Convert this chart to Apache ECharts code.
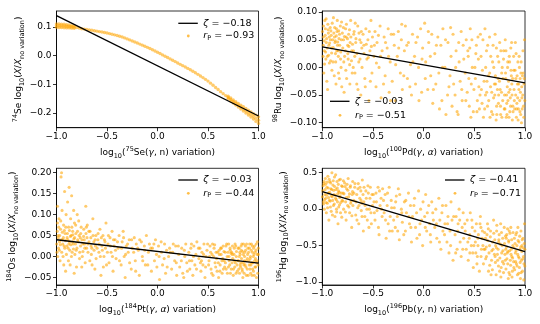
<!DOCTYPE html>
<html><head><meta charset="utf-8">
<script src="https://cdn.jsdelivr.net/npm/echarts@6/dist/echarts.min.js"></script>
<style>html,body{margin:0;padding:0;background:#fff}#c{width:540px;height:324px}</style>
</head><body><div id="c"></div>
<script>
// ---------- tick values ----------
const xTicks = [-1, -0.5, 0, 0.5, 1];
const p1YTicks = [-0.2, -0.1, 0, 0.1];
const p2YTicks = [-0.10, -0.05, 0, 0.05, 0.10];
const p3YTicks = [-0.05, 0, 0.05, 0.10, 0.15, 0.20];
const p4YTicks = [-1.0, -0.5, 0, 0.5];

// ---------- legend values ----------
const zetas = ['−0.18', '−0.03', '−0.03', '−0.41'];
const rps = ['−0.93', '−0.51', '−0.44', '−0.71'];

// ---------- fit lines (endpoints) ----------
const p1Fit = [[-1, 0.140], [1, -0.211]];
const p2Fit = [[-1, 0.037], [1, -0.028]];
const p3Fit = [[-1, 0.040], [1, -0.016]];
const p4Fit = [[-1, 0.239], [1, -0.584]];

// ---------- panel 1: 75Se(g,n) -> 74Se (dense curve) ----------
const p1Curve = [
[-1.000,0.1050],[-0.975,0.1045],[-0.950,0.1040],[-0.925,0.1034],[-0.900,0.1027],[-0.875,0.1019],[-0.850,0.1010],[-0.825,0.0999],
[-0.800,0.0985],[-0.775,0.0963],[-0.750,0.0940],[-0.725,0.0927],[-0.700,0.0914],[-0.675,0.0900],[-0.650,0.0886],[-0.625,0.0871],
[-0.600,0.0856],[-0.575,0.0840],[-0.550,0.0824],[-0.525,0.0807],[-0.500,0.0790],[-0.475,0.0770],[-0.450,0.0749],[-0.425,0.0727],
[-0.400,0.0703],[-0.375,0.0677],[-0.350,0.0649],[-0.325,0.0620],[-0.300,0.0585],[-0.275,0.0550],[-0.250,0.0510],[-0.225,0.0475],
[-0.200,0.0440],[-0.175,0.0403],[-0.150,0.0366],[-0.125,0.0328],[-0.100,0.0289],[-0.075,0.0249],[-0.050,0.0207],[-0.025,0.0163],
[0.000,0.0118],[0.025,0.0072],[0.050,0.0026],[0.075,-0.0021],[0.100,-0.0068],[0.125,-0.0115],[0.150,-0.0162],[0.175,-0.0209],
[0.200,-0.0257],[0.225,-0.0305],[0.250,-0.0350],[0.275,-0.0398],[0.300,-0.0447],[0.325,-0.0496],[0.350,-0.0547],[0.375,-0.0600],
[0.400,-0.0655],[0.425,-0.0711],[0.450,-0.0769],[0.475,-0.0829],[0.500,-0.0890],[0.525,-0.0963],[0.550,-0.1037],[0.575,-0.1112],
[0.600,-0.1186],[0.625,-0.1260],[0.650,-0.1329],[0.675,-0.1397],[0.700,-0.1465],[0.725,-0.1533],[0.750,-0.1600],[0.775,-0.1666],
[0.800,-0.1732],[0.825,-0.1798],[0.850,-0.1864],[0.875,-0.1930],[0.900,-0.1996],[0.925,-0.2062],[0.950,-0.2128],[0.975,-0.2194],
[1.000,-0.2260]
];
const p1Edges = [
[-1,0.111],[-1,0.099],[-0.975,0.1105],[-0.975,0.0985],[-0.95,0.110],[-0.95,0.098],[-0.925,0.1095],[-0.925,0.0975],
[-0.9,0.108],[-0.9,0.097],[-0.875,0.107],[-0.875,0.097],[-0.85,0.105],[-0.85,0.096],[-0.825,0.104],[-0.825,0.0955],
[0.7,-0.142],[0.7,-0.151],[0.725,-0.148],[0.725,-0.159],[0.75,-0.155],[0.75,-0.166],[0.775,-0.161],[0.775,-0.173],
[0.8,-0.167],[0.8,-0.180],[0.825,-0.173],[0.825,-0.187],[0.85,-0.179],[0.85,-0.194],[0.875,-0.185],[0.875,-0.201],
[0.9,-0.191],[0.9,-0.208],[0.925,-0.197],[0.925,-0.215],[0.95,-0.203],[0.95,-0.222],[0.975,-0.208],[0.975,-0.230],
[1,-0.214],[1,-0.237]
];

// ---------- panel 2: 100Pd(g,a) -> 98Ru ----------
const p2Pts = [
[-0.99,0.055],[-0.98,0.03],[-0.97,0.07],[-0.985,-0.01],[-0.96,0.045],[-0.95,0.02],[-0.94,0.062],[-0.93,0.008],[-0.975,0.085],[-0.92,0.05],[-0.91,0.035],[-0.955,-0.025],[-0.945,0.078],[-0.935,0.04],[-0.965,0.015],[-0.915,0.066],[-0.99,0.04],[-0.905,-0.005],
[-0.89,0.09],[-0.88,0.055],[-0.87,0.025],[-0.86,0.07],[-0.85,0.04],[-0.84,-0.01],[-0.83,0.06],[-0.82,0.015],[-0.81,0.082],[-0.875,0.045],[-0.865,-0.03],[-0.845,0.03],[-0.835,0.052],[-0.815,0.0],[-0.895,0.01],[-0.855,0.065],
[-0.79,0.05],[-0.78,0.02],[-0.77,0.07],[-0.76,-0.02],[-0.75,0.04],[-0.74,0.06],[-0.73,0.005],[-0.72,0.085],[-0.71,0.03],[-0.785,-0.045],[-0.765,0.055],[-0.745,0.015],[-0.725,0.045],[-0.705,-0.01],
[-0.69,0.06],[-0.68,0.02],[-0.67,0.045],[-0.66,-0.03],[-0.65,0.075],[-0.64,0.01],[-0.63,0.05],[-0.62,-0.05],[-0.61,0.035],[-0.695,0.0],[-0.675,0.08],[-0.615,0.065],
[-0.59,0.04],[-0.58,-0.02],[-0.57,0.07],[-0.56,0.015],[-0.55,0.05],[-0.54,-0.06],[-0.53,0.03],[-0.52,0.085],[-0.51,-0.01],[-0.505,0.055],
[-0.49,0.02],[-0.48,0.065],[-0.47,-0.035],[-0.46,0.045],[-0.44,0.0],[-0.43,0.075],[-0.42,-0.055],[-0.41,0.03],
[-0.39,0.055],[-0.38,-0.015],[-0.36,0.035],[-0.35,0.07],[-0.34,-0.045],[-0.33,0.01],[-0.32,0.06],[-0.31,-0.025],
[-0.29,0.04],[-0.28,-0.06],[-0.26,0.02],[-0.25,0.065],[-0.23,-0.01],[-0.22,0.05],[-0.21,-0.04],
[-0.19,0.03],[-0.18,0.075],[-0.16,-0.02],[-0.15,0.045],[-0.13,0.005],[-0.12,-0.05],[-0.11,0.06],
[-0.09,0.02],[-0.08,-0.03],[-0.06,0.055],[-0.05,0.0],[-0.03,0.07],[-0.02,-0.045],[-0.01,0.035],
[0.01,0.08],[0.02,0.01],[0.04,-0.04],[0.05,0.045],[0.07,-0.015],[0.08,0.06],[0.09,-0.065],
[0.11,0.025],[0.12,-0.03],[0.14,0.055],[0.15,-0.01],[0.17,0.04],[0.18,-0.06],[0.19,0.07],
[0.21,0.0],[0.22,-0.085],[0.24,0.045],[0.25,-0.035],[0.27,0.02],[0.28,-0.07],[0.29,0.06],[0.26,-0.015],
[0.31,-0.05],[0.32,0.03],[0.33,-0.08],[0.35,0.01],[0.36,-0.025],[0.37,0.065],[0.38,-0.06],[0.39,0.04],[0.34,-0.085],
[0.41,-0.01],[0.42,0.05],[0.43,-0.045],[0.44,0.02],[0.45,-0.07],[0.46,0.07],[0.47,-0.03],[0.48,0.0],[0.49,-0.08],[0.455,0.035],
[0.51,-0.02],[0.52,0.04],[0.53,-0.06],[0.54,0.015],[0.55,-0.075],[0.56,0.06],[0.57,-0.04],[0.58,-0.005],[0.59,-0.09],[0.515,0.025],[0.545,-0.035],[0.585,0.05],
[0.61,-0.05],[0.62,0.03],[0.63,-0.07],[0.64,-0.015],[0.65,0.055],[0.66,-0.035],[0.67,-0.08],[0.68,0.01],[0.69,-0.055],[0.605,0.07],[0.625,-0.025],[0.655,-0.09],[0.685,0.04],
[0.71,-0.03],[0.72,-0.07],[0.73,0.02],[0.74,-0.05],[0.75,0.045],[0.76,-0.085],[0.77,-0.01],[0.78,-0.06],[0.79,0.03],[0.705,0.06],[0.715,-0.095],[0.735,-0.02],[0.755,-0.04],[0.775,0.0],[0.795,-0.075],
[0.81,-0.02],[0.82,-0.065],[0.83,0.01],[0.84,-0.045],[0.85,-0.08],[0.86,0.035],[0.87,-0.03],[0.88,-0.07],[0.89,-0.005],[0.805,0.05],[0.815,-0.09],[0.825,-0.035],[0.845,0.02],[0.855,-0.055],[0.865,-0.015],[0.875,-0.095],[0.895,-0.06],
[0.91,-0.02],[0.92,-0.065],[0.93,0.01],[0.94,-0.04],[0.95,-0.08],[0.96,-0.01],[0.97,-0.055],[0.98,0.03],[0.99,-0.03],[0.905,0.045],[0.915,-0.09],[0.925,-0.03],[0.935,-0.075],[0.945,0.0],[0.955,-0.045],[0.965,-0.1],[0.975,-0.015],[0.985,-0.07],[0.995,0.05]
];
const p2More = [
[-0.998,0.065],[-0.992,0.02],[-0.988,0.075],[-0.982,0.048],[-0.978,0.006],[-0.972,0.058],[-0.968,0.028],[-0.962,0.088],[-0.958,0.052],[-0.952,0.035],[-0.948,-0.04],[-0.942,0.068],[-0.938,0.022],[-0.932,0.055],[-0.928,0.044],[-0.922,0.072],[-0.918,0.012],[-0.912,0.058],[-0.908,0.026],[-0.902,0.08],
[-0.898,0.05],[-0.892,0.036],[-0.886,0.062],[-0.882,-0.015],[-0.878,0.072],[-0.872,0.048],[-0.868,0.01],[-0.862,0.057],[-0.858,0.03],[-0.852,0.085],[-0.848,0.046],[-0.842,0.02],[-0.838,0.066],[-0.832,-0.02],[-0.828,0.04],[-0.822,0.075],[-0.818,0.028],[-0.812,0.05],[-0.808,-0.035],[-0.802,0.062],
[-0.798,0.035],[-0.792,0.072],[-0.788,0.01],[-0.782,0.056],[-0.772,0.03],[-0.768,-0.005],[-0.762,0.078],[-0.752,0.052],[-0.748,0.025],[-0.738,0.038],[-0.732,0.068],[-0.728,-0.03],[-0.718,0.055],[-0.712,0.012],[-0.702,0.042],
[-0.692,0.03],[-0.686,0.065],[-0.678,-0.01],[-0.668,0.052],[-0.658,0.025],[-0.648,-0.04],[-0.638,0.062],[-0.628,0.015],[-0.618,0.045],[-0.608,0.0],
[-0.598,0.06],[-0.588,0.025],[-0.576,-0.035],[-0.566,0.042],[-0.546,0.018],[-0.536,0.065],[-0.526,-0.025],[-0.516,0.038],
[-0.486,0.04],[-0.466,0.008],[-0.446,0.058],[-0.426,0.02],[-0.396,-0.03],[-0.376,0.045],[-0.346,0.02],[-0.326,-0.06],[-0.296,0.06],[-0.276,0.005],[-0.246,0.035],[-0.216,0.078],[-0.196,-0.015],[-0.166,0.04],[-0.136,-0.035],[-0.106,0.01],[-0.076,0.045],[-0.046,-0.06],[-0.016,0.015],
[0.016,-0.02],[0.046,0.065],[0.066,0.02],[0.096,-0.04],[0.126,0.04],[0.156,-0.075],[0.186,0.0],[0.216,0.05],[0.236,-0.05],[0.266,0.072],[0.296,-0.03],[0.316,0.0],[0.346,0.045],[0.376,-0.04],[0.396,0.015],
[0.416,-0.06],[0.436,0.03],[0.446,-0.02],[0.466,-0.09],[0.476,0.05],[0.496,-0.04],
[0.506,0.0],[0.526,-0.08],[0.536,0.055],[0.556,-0.05],[0.566,0.02],[0.576,-0.065],[0.596,-0.025],
[0.602,-0.075],[0.612,0.0],[0.622,-0.045],[0.632,0.04],[0.642,-0.06],[0.652,-0.01],[0.662,0.02],[0.672,-0.045],[0.682,-0.085],[0.692,0.0],[0.698,-0.03],
[0.702,-0.05],[0.708,-0.015],[0.718,0.035],[0.722,-0.085],[0.728,-0.04],[0.738,-0.065],[0.742,0.01],[0.748,-0.025],[0.758,-0.07],[0.762,0.03],[0.768,-0.045],[0.772,-0.09],[0.782,-0.02],[0.788,0.015],[0.798,-0.05],
[0.802,-0.075],[0.808,-0.01],[0.812,0.03],[0.818,-0.05],[0.822,-0.085],[0.828,0.0],[0.832,-0.06],[0.838,-0.025],[0.842,-0.09],[0.848,0.01],[0.852,-0.04],[0.858,-0.07],[0.862,-0.005],[0.868,0.045],[0.872,-0.05],[0.878,-0.02],[0.882,-0.08],[0.888,0.02],[0.892,-0.04],[0.898,-0.075],
[0.902,-0.005],[0.908,-0.05],[0.912,0.025],[0.918,-0.075],[0.922,-0.015],[0.928,-0.055],[0.932,-0.095],[0.938,-0.03],[0.942,0.02],[0.948,-0.06],[0.952,-0.02],[0.958,-0.085],[0.962,0.01],[0.968,-0.035],[0.972,-0.075],[0.978,-0.05],[0.982,-0.01],[0.988,-0.09],[0.992,-0.02],[0.998,-0.06]
];

// ---------- panel 3: 184Pt(g,a) -> 184Os ----------
const p3Pts = [
[-0.99,0.12],[-0.985,0.05],[-0.98,0.02],[-0.975,0.09],[-0.97,0.035],[-0.965,-0.01],[-0.96,0.065],[-0.955,0.19],[-0.95,0.2],[-0.945,0.11],[-0.94,0.04],[-0.935,0.0],[-0.93,0.075],[-0.925,0.025],[-0.92,0.155],[-0.915,0.055],[-0.91,-0.035],[-0.905,0.1],[-0.995,0.01],[-0.99,0.08],
[-0.895,0.045],[-0.89,0.13],[-0.885,0.02],[-0.88,0.07],[-0.875,0.165],[-0.87,0.035],[-0.865,-0.02],[-0.86,0.09],[-0.855,0.05],[-0.85,0.145],[-0.845,0.01],[-0.84,0.06],[-0.835,0.03],[-0.83,0.11],[-0.825,-0.04],[-0.82,0.045],[-0.81,0.075],[-0.805,0.015],
[-0.79,0.04],[-0.78,0.085],[-0.77,0.01],[-0.76,0.055],[-0.75,-0.025],[-0.74,0.03],[-0.73,0.065],[-0.72,0.02],[-0.71,0.12],[-0.795,0.1],[-0.765,0.045],[-0.745,0.0],[-0.725,0.04],[-0.705,0.07],
[-0.69,0.03],[-0.68,0.06],[-0.67,-0.01],[-0.66,0.045],[-0.65,0.02],[-0.64,0.09],[-0.63,0.035],[-0.62,-0.03],[-0.61,0.05],[-0.695,0.075],[-0.655,0.005],[-0.615,0.025],
[-0.59,0.04],[-0.58,0.01],[-0.57,0.065],[-0.56,-0.045],[-0.55,0.025],[-0.54,0.05],[-0.53,0.0],[-0.52,0.035],[-0.51,0.08],[-0.505,-0.02],
[-0.49,0.03],[-0.48,-0.015],[-0.47,0.045],[-0.46,0.01],[-0.45,0.06],[-0.44,-0.035],[-0.43,0.025],[-0.42,0.04],[-0.41,-0.005],
[-0.39,0.02],[-0.38,0.05],[-0.36,-0.02],[-0.35,0.035],[-0.33,0.0],[-0.32,-0.05],[-0.31,0.025],[-0.34,0.06],
[-0.29,0.01],[-0.28,0.04],[-0.26,-0.03],[-0.25,0.02],[-0.23,0.045],[-0.22,-0.01],[-0.21,0.03],
[-0.19,0.015],[-0.18,-0.045],[-0.16,0.035],[-0.15,0.0],[-0.13,0.025],[-0.12,-0.02],[-0.11,0.05],
[-0.09,0.01],[-0.08,0.03],[-0.06,-0.035],[-0.05,0.02],[-0.03,-0.01],[-0.02,0.04],[-0.01,0.005],
[0.01,0.025],[0.02,-0.055],[0.04,0.01],[0.05,-0.02],[0.07,0.03],[0.08,-0.04],[0.09,0.015],
[0.11,0.0],[0.12,0.02],[0.14,-0.03],[0.15,0.01],[0.17,-0.01],[0.18,0.025],[0.19,-0.045],
[0.21,0.005],[0.22,-0.025],[0.24,0.02],[0.25,-0.04],[0.27,0.0],[0.28,0.03],[0.29,-0.015],[0.26,-0.05],
[0.31,0.01],[0.32,-0.03],[0.33,0.02],[0.34,-0.01],[0.35,-0.045],[0.36,0.025],[0.37,-0.02],[0.38,0.005],[0.39,0.035],
[0.41,-0.005],[0.42,0.02],[0.43,-0.035],[0.44,0.01],[0.45,-0.02],[0.46,0.03],[0.47,-0.05],[0.48,0.0],[0.49,0.015],[0.425,-0.015],
[0.51,-0.01],[0.52,0.025],[0.53,-0.03],[0.54,0.005],[0.55,-0.045],[0.56,0.02],[0.57,-0.015],[0.58,0.01],[0.59,-0.035],[0.515,0.0],[0.545,0.03],[0.585,-0.005],
[0.61,0.015],[0.62,-0.02],[0.63,0.005],[0.64,-0.04],[0.65,0.025],[0.66,-0.01],[0.67,0.01],[0.68,-0.03],[0.69,0.0],[0.605,-0.05],[0.625,0.02],[0.645,-0.005],[0.665,-0.025],[0.685,0.03],
[0.71,-0.01],[0.72,0.015],[0.73,-0.03],[0.74,0.005],[0.75,-0.045],[0.76,0.02],[0.77,-0.015],[0.78,0.0],[0.79,-0.035],[0.705,0.03],[0.715,-0.02],[0.735,0.01],[0.745,-0.005],[0.765,-0.025],[0.775,0.025],[0.795,-0.01],
[0.81,0.0],[0.82,-0.02],[0.83,0.015],[0.84,-0.035],[0.85,0.005],[0.86,-0.01],[0.87,0.025],[0.88,-0.045],[0.89,-0.005],[0.805,-0.03],[0.815,0.01],[0.825,-0.015],[0.835,0.03],[0.845,-0.05],[0.855,-0.02],[0.865,0.01],[0.875,-0.025],[0.895,0.02],
[0.905,-0.01],[0.91,0.02],[0.915,-0.03],[0.92,0.0],[0.925,-0.02],[0.93,0.03],[0.935,-0.045],[0.94,0.01],[0.945,-0.015],[0.95,-0.035],[0.955,0.005],[0.96,0.025],[0.965,-0.025],[0.97,-0.005],[0.975,0.015],[0.98,-0.05],[0.985,-0.01],[0.99,0.035],[0.995,-0.02],[0.998,0.005]
];
const p3More = [
[-0.998,0.03],[-0.992,0.06],[-0.988,0.0],[-0.982,0.045],[-0.978,0.07],[-0.972,0.015],[-0.968,0.05],[-0.962,0.028],[-0.958,0.085],[-0.952,0.04],[-0.948,0.01],[-0.942,0.058],[-0.938,0.03],[-0.932,0.045],[-0.928,-0.02],[-0.922,0.062],[-0.918,0.02],[-0.912,0.038],[-0.908,0.07],[-0.902,0.005],
[-0.898,0.025],[-0.892,0.055],[-0.888,0.04],[-0.882,-0.01],[-0.878,0.03],[-0.872,0.062],[-0.868,0.015],[-0.862,0.048],[-0.858,0.028],[-0.852,0.0],[-0.848,0.07],[-0.842,0.035],[-0.838,0.052],[-0.832,0.018],[-0.828,0.042],[-0.822,0.08],[-0.818,0.005],[-0.812,0.03],[-0.808,0.055],[-0.802,-0.025],
[-0.798,0.02],[-0.792,0.06],[-0.786,0.035],[-0.776,0.05],[-0.772,-0.005],[-0.762,0.025],[-0.756,0.07],[-0.748,0.04],[-0.738,0.012],[-0.732,0.048],[-0.722,0.03],[-0.716,-0.015],[-0.708,0.055],[-0.702,0.02],
[-0.698,0.045],[-0.688,0.01],[-0.678,0.035],[-0.668,0.06],[-0.658,0.025],[-0.648,-0.02],[-0.638,0.05],[-0.628,0.015],[-0.618,0.04],[-0.608,-0.005],
[-0.598,0.02],[-0.588,0.055],[-0.578,0.03],[-0.566,0.0],[-0.556,0.045],[-0.546,0.015],[-0.536,-0.025],[-0.526,0.04],[-0.516,0.02],
[-0.496,0.01],[-0.486,0.05],[-0.466,0.025],[-0.446,0.0],[-0.436,0.04],[-0.416,0.015],[-0.396,0.035],[-0.376,-0.01],[-0.356,0.02],[-0.336,0.045],[-0.316,0.005],[-0.296,0.03],[-0.276,-0.015],[-0.256,0.04],[-0.236,0.01],[-0.216,-0.035],[-0.196,0.02],[-0.176,0.04],[-0.146,-0.01],[-0.126,0.015],[-0.096,-0.02],[-0.066,0.02],[-0.036,0.03],[-0.006,-0.025],
[0.016,0.0],[0.036,0.035],[0.066,-0.005],[0.096,-0.025],[0.126,0.01],[0.156,0.03],[0.186,-0.015],[0.206,0.025],[0.236,-0.01],[0.266,0.015],[0.296,-0.035],[0.316,-0.01],[0.336,0.03],[0.356,0.0],[0.386,-0.03],
[0.406,0.02],[0.436,-0.01],[0.456,0.005],[0.476,-0.025],[0.496,0.03],
[0.506,-0.02],[0.526,0.01],[0.536,-0.04],[0.556,0.0],[0.566,0.028],[0.576,-0.025],[0.596,0.01],
[0.602,-0.015],[0.612,0.005],[0.618,-0.035],[0.632,0.02],[0.638,-0.01],[0.652,-0.03],[0.658,0.012],[0.672,-0.015],[0.678,0.025],[0.692,-0.04],[0.698,0.01],
[0.702,-0.025],[0.708,0.0],[0.718,0.02],[0.722,-0.04],[0.728,0.008],[0.738,-0.015],[0.742,0.025],[0.752,-0.03],[0.758,0.005],[0.762,-0.01],[0.768,0.03],[0.778,-0.04],[0.782,0.012],[0.788,-0.02],[0.798,0.02],
[0.802,-0.01],[0.808,0.02],[0.812,-0.04],[0.818,0.005],[0.822,-0.025],[0.828,0.025],[0.832,-0.005],[0.838,-0.03],[0.842,0.012],[0.848,-0.015],[0.852,0.03],[0.858,-0.04],[0.862,0.0],[0.868,-0.02],[0.872,0.015],[0.878,-0.01],[0.882,0.03],[0.888,-0.03],[0.892,0.005],[0.898,-0.045],
[0.902,0.01],[0.908,-0.02],[0.912,0.03],[0.918,-0.005],[0.922,-0.04],[0.928,0.015],[0.932,-0.015],[0.938,0.025],[0.942,-0.03],[0.948,0.0],[0.952,0.02],[0.958,-0.045],[0.962,-0.01],[0.968,0.01],[0.972,-0.025],[0.978,0.03],[0.982,-0.015],[0.988,0.005],[0.992,-0.04],[0.998,0.02]
];

// ---------- panel 4: 196Pb(g,n) -> 196Hg ----------
const p4Pts = [
[-0.995,0.25],[-0.99,0.1],[-0.985,0.35],[-0.98,0.0],[-0.975,0.2],[-0.97,0.42],[-0.965,0.15],[-0.96,-0.05],[-0.955,0.3],[-0.95,0.08],[-0.945,0.45],[-0.94,0.22],[-0.935,-0.15],[-0.93,0.12],[-0.925,0.38],[-0.92,0.03],[-0.915,0.28],[-0.91,0.18],[-0.905,0.5],[-0.9,-0.08],
[-0.895,0.33],[-0.89,0.05],[-0.885,0.2],[-0.88,0.44],[-0.875,-0.1],[-0.87,0.15],[-0.865,0.27],[-0.86,0.0],[-0.855,0.38],[-0.85,0.1],[-0.845,-0.2],[-0.84,0.25],[-0.835,0.4],[-0.83,0.06],[-0.825,0.18],[-0.82,-0.05],[-0.81,0.32],[-0.805,0.12],
[-0.795,0.22],[-0.79,0.0],[-0.78,0.36],[-0.77,0.1],[-0.765,-0.15],[-0.76,0.28],[-0.75,0.05],[-0.745,0.42],[-0.74,0.17],[-0.73,-0.05],[-0.725,0.3],[-0.72,0.08],[-0.71,-0.25],[-0.705,0.2],[-0.7,0.38],
[-0.69,0.12],[-0.68,0.3],[-0.67,-0.08],[-0.66,0.2],[-0.65,0.02],[-0.645,0.35],[-0.64,-0.2],[-0.63,0.15],[-0.62,0.25],[-0.615,-0.02],[-0.61,0.08],[-0.605,0.4],
[-0.59,0.1],[-0.58,-0.1],[-0.57,0.25],[-0.56,0.0],[-0.55,0.32],[-0.54,-0.25],[-0.53,0.15],[-0.52,-0.05],[-0.51,0.2],[-0.505,0.05],[-0.595,-0.3],
[-0.49,0.1],[-0.48,-0.15],[-0.47,0.22],[-0.46,-0.02],[-0.45,0.3],[-0.44,-0.35],[-0.43,0.05],[-0.42,0.15],[-0.41,-0.1],[-0.405,0.28],
[-0.39,-0.05],[-0.38,0.2],[-0.37,-0.4],[-0.36,0.05],[-0.35,-0.2],[-0.34,0.3],[-0.33,-0.1],[-0.32,0.12],[-0.31,-0.3],
[-0.29,0.02],[-0.28,-0.25],[-0.27,0.18],[-0.26,-0.1],[-0.25,0.28],[-0.24,-0.42],[-0.22,0.0],[-0.21,-0.18],
[-0.19,0.1],[-0.18,-0.3],[-0.17,-0.05],[-0.15,0.22],[-0.14,-0.2],[-0.13,0.05],[-0.12,-0.45],[-0.11,-0.1],
[-0.09,0.15],[-0.08,-0.25],[-0.07,-0.05],[-0.05,0.25],[-0.04,-0.35],[-0.03,0.0],[-0.02,-0.15],[-0.01,-0.5],
[0.01,-0.1],[0.02,0.2],[0.03,-0.3],[0.05,0.05],[0.06,-0.2],[0.07,-0.45],[0.08,0.1],[0.09,-0.05],
[0.11,-0.25],[0.12,0.0],[0.13,-0.4],[0.15,0.15],[0.16,-0.15],[0.17,-0.55],[0.18,-0.05],[0.19,-0.3],
[0.21,-0.2],[0.22,0.05],[0.23,-0.45],[0.24,-0.1],[0.25,-0.6],[0.26,-0.3],[0.27,0.1],[0.28,-0.15],[0.29,-0.7],
[0.31,-0.35],[0.32,-0.1],[0.33,-0.55],[0.34,-0.2],[0.35,0.0],[0.36,-0.45],[0.37,-0.65],[0.38,-0.25],[0.39,-0.05],[0.395,-0.4],
[0.41,-0.3],[0.42,-0.55],[0.43,-0.15],[0.44,-0.7],[0.45,-0.4],[0.46,-0.05],[0.47,-0.5],[0.48,-0.25],[0.49,-0.8],[0.455,-0.35],[0.485,-0.6],
[0.51,-0.45],[0.52,-0.2],[0.53,-0.65],[0.54,-0.35],[0.55,-0.85],[0.56,-0.1],[0.57,-0.55],[0.58,-0.3],[0.59,-0.75],[0.515,-0.6],[0.535,-0.4],[0.565,-0.25],[0.585,-0.5],
[0.61,-0.4],[0.62,-0.65],[0.63,-0.2],[0.64,-0.85],[0.65,-0.5],[0.66,-0.3],[0.67,-0.7],[0.68,-0.45],[0.69,-0.15],[0.605,-0.55],[0.625,-0.35],[0.645,-0.6],[0.665,-0.9],[0.685,-0.55],
[0.71,-0.5],[0.72,-0.3],[0.73,-0.7],[0.74,-0.45],[0.75,-0.85],[0.76,-0.2],[0.77,-0.6],[0.78,-0.4],[0.79,-0.75],[0.705,-0.65],[0.715,-0.9],[0.735,-0.55],[0.745,-0.35],[0.765,-0.8],[0.775,-0.5],[0.795,-0.25],
[0.81,-0.55],[0.82,-0.35],[0.83,-0.75],[0.84,-0.45],[0.85,-0.9],[0.86,-0.25],[0.87,-0.65],[0.88,-0.5],[0.89,-0.8],[0.805,-0.7],[0.815,-0.4],[0.825,-0.6],[0.835,-0.95],[0.845,-0.3],[0.855,-0.7],[0.865,-0.55],[0.875,-0.85],[0.895,-0.4],
[0.905,-0.6],[0.91,-0.35],[0.915,-0.75],[0.92,-0.5],[0.925,-0.9],[0.93,-0.25],[0.935,-0.65],[0.94,-0.45],[0.945,-0.8],[0.95,-0.55],[0.955,-0.95],[0.96,-0.3],[0.965,-0.7],[0.97,-0.5],[0.975,-0.85],[0.98,-0.4],[0.985,-0.65],[0.99,-0.75],[0.995,-0.2],[0.998,-0.55]
];
const p4More = [
[-0.998,0.17],[-0.992,0.32],[-0.988,0.07],[-0.982,0.38],[-0.978,0.13],[-0.972,0.27],[-0.968,0.34],[-0.962,0.09],[-0.958,0.19],[-0.952,0.37],[-0.948,0.02],[-0.942,0.29],[-0.938,0.16],[-0.932,0.41],[-0.928,0.23],[-0.922,0.11],[-0.918,0.36],[-0.912,-0.03],[-0.908,0.27],[-0.902,0.17],
[-0.898,0.12],[-0.892,0.39],[-0.888,0.26],[-0.882,0.07],[-0.878,0.31],[-0.872,0.19],[-0.868,0.47],[-0.862,0.13],[-0.858,-0.04],[-0.852,0.29],[-0.848,0.21],[-0.842,0.34],[-0.838,0.03],[-0.832,0.23],[-0.828,0.16],[-0.822,0.41],[-0.818,0.09],[-0.812,0.22],[-0.808,-0.11],[-0.802,0.31],
[-0.798,0.11],[-0.792,0.39],[-0.786,0.21],[-0.776,0.31],[-0.772,-0.04],[-0.762,0.16],[-0.756,0.34],[-0.748,0.26],[-0.738,0.03],[-0.732,0.21],[-0.722,0.32],[-0.716,0.11],[-0.708,-0.09],[-0.702,0.24],
[-0.698,0.05],[-0.688,0.22],[-0.678,0.35],[-0.668,0.1],[-0.658,-0.15],[-0.648,0.28],[-0.638,0.05],[-0.628,0.3],[-0.618,0.12],[-0.608,-0.1],
[-0.598,0.2],[-0.588,0.3],[-0.578,0.05],[-0.566,0.15],[-0.556,-0.15],[-0.546,0.22],[-0.536,0.0],[-0.526,0.3],[-0.516,-0.2],
[-0.496,0.2],[-0.486,-0.05],[-0.466,0.1],[-0.446,-0.25],[-0.436,0.25],[-0.416,0.0],[-0.396,0.12],[-0.376,-0.15],[-0.356,0.22],[-0.336,-0.3],[-0.316,0.02],[-0.296,-0.15],[-0.276,0.1],[-0.256,-0.3],[-0.236,0.2],[-0.216,-0.05],[-0.196,-0.35],[-0.176,0.12],[-0.146,-0.1],[-0.126,-0.25],[-0.096,0.05],[-0.066,-0.4],[-0.036,-0.2],[-0.006,0.1],
[0.016,-0.25],[0.036,-0.05],[0.066,-0.35],[0.096,-0.15],[0.126,-0.2],[0.156,-0.45],[0.186,0.05],[0.206,-0.35],[0.236,-0.2],[0.266,-0.5],[0.296,-0.1],[0.316,-0.6],[0.336,-0.3],[0.356,-0.15],[0.386,-0.55],
[0.406,-0.2],[0.436,-0.45],[0.456,-0.6],[0.476,-0.15],[0.496,-0.5],
[0.506,-0.3],[0.526,-0.75],[0.536,-0.5],[0.556,-0.2],[0.566,-0.65],[0.576,-0.4],[0.596,-0.55],
[0.602,-0.32],[0.612,-0.68],[0.618,-0.52],[0.632,-0.43],[0.638,-0.27],[0.652,-0.77],[0.658,-0.38],[0.672,-0.57],[0.678,-0.83],[0.692,-0.33],[0.698,-0.62],
[0.702,-0.42],[0.708,-0.73],[0.718,-0.53],[0.722,-0.22],[0.728,-0.62],[0.738,-0.78],[0.742,-0.42],[0.752,-0.67],[0.758,-0.48],[0.762,-0.93],[0.768,-0.32],[0.778,-0.72],[0.782,-0.57],[0.788,-0.87],[0.798,-0.47],
[0.802,-0.62],[0.808,-0.37],[0.812,-0.82],[0.818,-0.52],[0.822,-0.68],[0.828,-0.27],[0.832,-0.58],[0.838,-0.43],[0.842,-0.87],[0.848,-0.57],[0.852,-0.33],[0.858,-0.77],[0.862,-0.62],[0.868,-0.42],[0.872,-0.93],[0.878,-0.67],[0.882,-0.32],[0.888,-0.72],[0.892,-0.53],[0.898,-0.83],
[0.902,-0.47],[0.908,-0.72],[0.912,-0.57],[0.918,-0.32],[0.922,-0.78],[0.928,-0.62],[0.932,-0.43],[0.938,-0.88],[0.942,-0.67],[0.948,-0.37],[0.952,-0.73],[0.958,-0.52],[0.962,-0.87],[0.968,-0.58],[0.972,-0.42],[0.978,-0.68],[0.982,-0.53],[0.988,-0.97],[0.992,-0.47],[0.998,-0.78]
];

// ---------- build chart ----------
const FF = 'DejaVu Sans';
const ORANGE = 'rgba(255,165,0,0.72)';
const rich = {
  n: {fontSize: 9, fontFamily: FF, color: '#000', lineHeight: 14},
  i: {fontSize: 9, fontFamily: FF, color: '#000', fontStyle: 'italic', lineHeight: 14},
  s: {fontSize: 6.5, fontFamily: FF, color: '#000', lineHeight: 7, verticalAlign: 'top'},
  b: {fontSize: 6.5, fontFamily: FF, color: '#000', lineHeight: 7, verticalAlign: 'bottom'}
};
function xName(sup, el, reac) { return '{n|log}{b|10}{n|(}{s|' + sup + '}{n|' + el + '(}{i|γ}{n|, }' + reac + '{n|) variation)}'; }
function yName(sup, el) { return '{s|' + sup + '}{n|' + el + ' log}{b|10}{n|(}{i|X}{n|/}{i|X}{b|no variation}{n|)}'; }
const fmt = d => v => (Math.abs(v) < 1e-9 ? (0).toFixed(d) : v.toFixed(d)).replace('-', '−');

const panels = [
  {grid: {left: 56.5, top: 11, width: 202, height: 116.7}, ymin: -0.252, ymax: 0.156, yt: p1YTicks, yd: 1,
   xn: xName('75', 'Se', '{n|n}'), yn: yName('74', 'Se'), yGap: 27, pts: p1Curve.concat(p1Edges), fit: p1Fit, size: 3.4},
  {grid: {left: 322.3, top: 11, width: 202.7, height: 116.7}, ymin: -0.109, ymax: 0.102, yt: p2YTicks, yd: 2,
   xn: xName('100', 'Pd', '{i|α}'), yn: yName('98', 'Ru'), yGap: 35, pts: p2Pts.concat(p2More), fit: p2Fit, size: 3.1},
  {grid: {left: 56.5, top: 168.3, width: 202, height: 116.7}, ymin: -0.068, ymax: 0.2105, yt: p3YTicks, yd: 2,
   xn: xName('184', 'Pt', '{i|α}'), yn: yName('184', 'Os'), yGap: 30, pts: p3Pts.concat(p3More), fit: p3Fit, size: 3.1},
  {grid: {left: 322.3, top: 168.3, width: 202.7, height: 116.7}, ymin: -1.04, ymax: 0.56, yt: p4YTicks, yd: 1,
   xn: xName('196', 'Pb', '{n|n}'), yn: yName('196', 'Hg'), yGap: 32, pts: p4Pts.concat(p4More), fit: p4Fit, size: 3.1}
];

const option = {animation: false, backgroundColor: '#fff', grid: [], xAxis: [], yAxis: [], series: [], graphic: []};
const tickStyle = {show: true, inside: false, length: 3.5, lineStyle: {color: '#000', width: 0.8}};
panels.forEach((p, k) => {
  option.grid.push(Object.assign({show: true, borderColor: '#000', borderWidth: 0.8, containLabel: false}, p.grid));
  option.xAxis.push({
    gridIndex: k, type: 'value', min: -1, max: 1, interval: 0.5,
    axisLine: {show: true, onZero: false, lineStyle: {color: '#000', width: 0.8}},
    axisTick: tickStyle, splitLine: {show: false},
    axisLabel: {color: '#000', fontFamily: FF, fontSize: 9, margin: 4, formatter: fmt(1), showMinLabel: true, showMaxLabel: true},
    name: p.xn, nameLocation: 'middle', nameGap: 18,
    nameTextStyle: {rich: rich, fontFamily: FF, fontSize: 9, color: '#000'}
  });
  option.yAxis.push({
    gridIndex: k, type: 'value', min: p.ymin, max: p.ymax,
    axisLine: {show: true, onZero: false, lineStyle: {color: '#000', width: 0.8}},
    axisTick: Object.assign({customValues: p.yt}, tickStyle),
    splitLine: {show: false},
    axisLabel: {color: '#000', fontFamily: FF, fontSize: 9, margin: 5, formatter: fmt(p.yd), customValues: p.yt},
    name: p.yn, nameLocation: 'middle', nameGap: p.yGap, nameRotate: 90,
    nameTextStyle: {rich: rich, fontFamily: FF, fontSize: 9, color: '#000'}
  });
  option.series.push({type: 'scatter', xAxisIndex: k, yAxisIndex: k, data: p.pts, symbolSize: p.size,
    itemStyle: {color: ORANGE}, z: 2, silent: true});
  option.series.push({type: 'line', xAxisIndex: k, yAxisIndex: k, data: p.fit, showSymbol: false, symbol: 'none',
    lineStyle: {color: '#000', width: 1.3}, z: 3, silent: true});
});

// legends
const legPos = [
  {lx: 178.3, ly: 23.3, dy: 36},
  {lx: 330, ly: 101.3, dy: 115.3},
  {lx: 178.3, ly: 180, dy: 193.3},
  {lx: 445, ly: 180, dy: 193.3}
];
const legRich = {
  n: {fontSize: 9.5, fontFamily: FF, color: '#000', lineHeight: 12},
  i: {fontSize: 9.5, fontFamily: FF, color: '#000', fontStyle: 'italic', lineHeight: 12},
  b: {fontSize: 6.5, fontFamily: FF, color: '#000', lineHeight: 6, verticalAlign: 'bottom'}
};
legPos.forEach((L, k) => {
  option.graphic.push({type: 'line', shape: {x1: L.lx, y1: L.ly, x2: L.lx + 19.5, y2: L.ly}, style: {stroke: '#000', lineWidth: 1.3}, z: 10});
  option.graphic.push({type: 'circle', shape: {cx: L.lx + 10, cy: L.dy, r: 1.4}, style: {fill: ORANGE}, z: 10});
  option.graphic.push({type: 'text', x: L.lx + 25, y: L.ly, z: 10,
    style: {text: '{i|ζ}{n| = ' + zetas[k] + '}', rich: legRich, verticalAlign: 'middle', align: 'left'}});
  option.graphic.push({type: 'text', x: L.lx + 25, y: L.dy, z: 10,
    style: {text: '{i|r}{b|P}{n| = ' + rps[k] + '}', rich: legRich, verticalAlign: 'middle', align: 'left'}});
});

const chart = echarts.init(document.getElementById('c'), null, {renderer: 'canvas'});
chart.setOption(option);
</script></body></html>
